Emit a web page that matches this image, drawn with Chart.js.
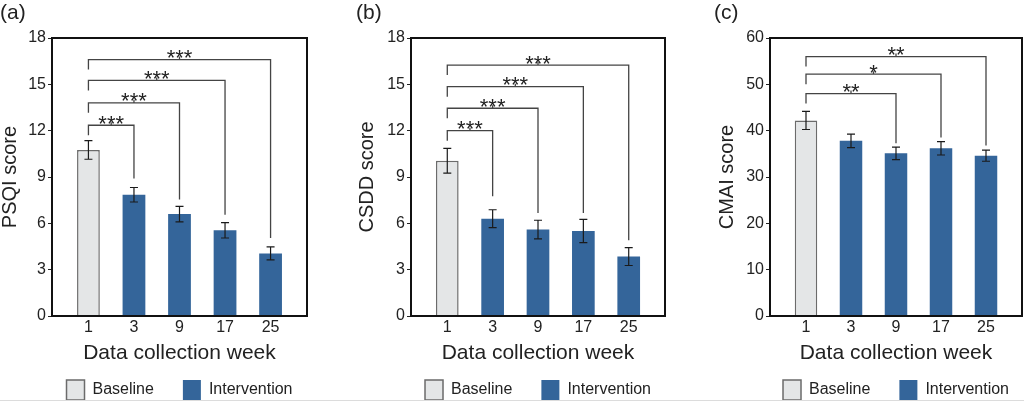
<!DOCTYPE html>
<html>
<head>
<meta charset="utf-8">
<script src="https://cdn.jsdelivr.net/npm/chart.js@4/dist/chart.umd.min.js"></script>
<style>
html,body{margin:0;padding:0;background:#fff;width:1024px;height:401px;overflow:hidden;position:relative}
canvas{position:absolute;top:0}
#edge{position:absolute;left:0;top:400px;width:1024px;height:1px;background:#dcdcdc}
</style>
</head>
<body>
<canvas id="ca" width="359" height="410" style="left:0px"></canvas>
<canvas id="cb" width="364" height="410" style="left:356px"></canvas>
<canvas id="cc" width="364" height="410" style="left:714px"></canvas>
<div id="edge"></div>
<script>
// ---- data ----
const weeks = ['1', '3', '9', '17', '25'];
const seriesNames = ['Baseline', 'Intervention'];

const psqiMean = [10.75, 7.85, 6.6, 5.55, 4.05];
const psqiErr  = [0.6, 0.47, 0.5, 0.5, 0.42];
const csddMean = [10.05, 6.3, 5.6, 5.5, 3.85];
const csddErr  = [0.8, 0.58, 0.6, 0.75, 0.58];
const cmaiMean = [42.2, 37.8, 35.1, 36.2, 34.6];
const cmaiErr  = [1.95, 1.45, 1.35, 1.45, 1.2];

const psqiTicks = [0, 3, 6, 9, 12, 15, 18];
const csddTicks = [0, 3, 6, 9, 12, 15, 18];
const cmaiTicks = [0, 10, 20, 30, 40, 50, 60];

// significance brackets: from week index 0 to index `to`, at level `y`, right leg ending at `end`
const psqiSig = [
  {to: 1, y: 12.35, end: 8.9,  label: '***'},
  {to: 2, y: 13.8,  end: 7.55, label: '***'},
  {to: 3, y: 15.25, end: 6.55, label: '***'},
  {to: 4, y: 16.6,  end: 5.05, label: '***'}
];
const csddSig = [
  {to: 1, y: 12.0,  end: 7.75, label: '***'},
  {to: 2, y: 13.45, end: 6.67, label: '***'},
  {to: 3, y: 14.85, end: 6.67, label: '***'},
  {to: 4, y: 16.25, end: 4.9,  label: '***'}
];
const cmaiSig = [
  {to: 2, y: 48.0, end: 37.3, label: '**'},
  {to: 3, y: 52.2, end: 38.5, label: '*'},
  {to: 4, y: 56.0, end: 36.8, label: '**'}
];

// ---- drawing ----
const FONT = "'Liberation Sans', Arial, sans-serif";
const TXT = '#222';

function annotPlugin(mean, err, sig) {
  return {
    id: 'annot',
    afterDatasetsDraw(chart) {
      const ctx = chart.ctx, xs = chart.scales.x, ys = chart.scales.y, a = chart.chartArea;
      ctx.save();
      // error bars
      ctx.strokeStyle = '#1a1a1a';
      ctx.lineWidth = 1.2;
      mean.forEach((m, i) => {
        const x = xs.getPixelForValue(i);
        const yt = ys.getPixelForValue(m + err[i]);
        const yb = ys.getPixelForValue(m - err[i]);
        ctx.beginPath();
        ctx.moveTo(x, yt); ctx.lineTo(x, yb);
        ctx.moveTo(x - 4, yt); ctx.lineTo(x + 4, yt);
        ctx.moveTo(x - 4, yb); ctx.lineTo(x + 4, yb);
        ctx.stroke();
      });
      // brackets
      ctx.strokeStyle = '#444';
      ctx.lineWidth = 1.3;
      ctx.fillStyle = TXT;
      ctx.font = '22px ' + FONT;
      ctx.textAlign = 'center';
      ctx.textBaseline = 'alphabetic';
      sig.forEach(s => {
        const x0 = xs.getPixelForValue(0), x1 = xs.getPixelForValue(s.to);
        const y = ys.getPixelForValue(s.y), ye = ys.getPixelForValue(s.end);
        const xm = (x0 + x1) / 2;
        ctx.beginPath();
        ctx.moveTo(x0, y + 10); ctx.lineTo(x0, y); ctx.lineTo(x1, y); ctx.lineTo(x1, ye);
        ctx.moveTo(xm, y); ctx.lineTo(xm, y - 3);
        ctx.stroke();
        ctx.fillText(s.label, xm, y + 5.5);
      });
      // frame
      ctx.strokeStyle = '#111';
      ctx.lineWidth = 2;
      ctx.strokeRect(a.left, a.top, a.right - a.left, a.bottom - a.top);
      ctx.restore();
    }
  };
}

function makeChart(id, c) {
  return new Chart(document.getElementById(id), {
    type: 'bar',
    data: {
      datasets: [
        {label: seriesNames[0], data: [{x: 0, y: c.mean[0]}],
         backgroundColor: '#e4e6e7', borderColor: '#6b6b6b', borderWidth: 1.5,
         grouped: false, barPercentage: 0.5, categoryPercentage: 1},
        {label: seriesNames[1], data: c.mean.slice(1).map((v, i) => ({x: i + 1, y: v})),
         backgroundColor: '#34659a', borderWidth: 0,
         grouped: false, barPercentage: 0.5, categoryPercentage: 1}
      ]
    },
    options: {
      responsive: false, animation: false, devicePixelRatio: 1,
      layout: {padding: 0},
      plugins: {
        title: {display: true, text: c.panel, align: 'start', color: TXT,
                font: {family: FONT, size: 21, lineHeight: 1, weight: 'normal'},
                padding: {top: 2.8, bottom: 14.2}},
        legend: {position: 'bottom',
                 labels: {boxWidth: 18, boxHeight: 20, padding: 29, color: TXT,
                          font: {family: FONT, size: 16}}},
        tooltip: {enabled: false}
      },
      scales: {
        x: {type: 'linear', min: -0.8, max: 4.8, offset: false,
            afterBuildTicks: s => { s.ticks = weeks.map((w, i) => ({value: i})); },
            ticks: {autoSkip: false, maxRotation: 0, padding: 2.4, color: TXT,
                    font: {family: FONT, size: 16}, callback: v => weeks[v]},
            grid: {display: false, drawTicks: false, offset: false},
            border: {display: false},
            title: {display: true, text: 'Data collection week', color: TXT,
                    font: {family: FONT, size: 21, lineHeight: 1}, padding: {top: 0, bottom: -12.5}},
            afterFit: s => { s.height = 35; }},
        y: {min: c.ticks[0], max: c.ticks[c.ticks.length - 1],
            afterBuildTicks: s => { s.ticks = c.ticks.map(v => ({value: v})); },
            ticks: {padding: 2, color: TXT, font: {family: FONT, size: 16}},
            grid: {drawOnChartArea: false, drawTicks: true, tickLength: 4, color: '#222', lineWidth: 1},
            border: {display: false},
            title: {display: true, text: c.yTitle, color: TXT,
                    font: {family: FONT, size: 20, lineHeight: 1}, padding: {top: c.tp, bottom: 0}},
            afterFit: s => { s.width = c.yW; }},
        yR: {type: 'linear', position: 'right', display: true,
             ticks: {display: false}, grid: {display: false, drawTicks: false}, border: {display: false},
             afterFit: s => { s.width = c.yW; }}
      }
    },
    plugins: [annotPlugin(c.mean, c.err, c.sig)]
  });
}

makeChart('ca', {panel: '(a)', mean: psqiMean, err: psqiErr, sig: psqiSig, ticks: psqiTicks, yTitle: 'PSQI score', yW: 52, tp: 0.7});
makeChart('cb', {panel: '(b)', mean: csddMean, err: csddErr, sig: csddSig, ticks: csddTicks, yTitle: 'CSDD score', yW: 55, tp: 1.4});
makeChart('cc', {panel: '(c)', mean: cmaiMean, err: cmaiErr, sig: cmaiSig, ticks: cmaiTicks, yTitle: 'CMAI score', yW: 56, tp: 3});
</script>
</body>
</html>
